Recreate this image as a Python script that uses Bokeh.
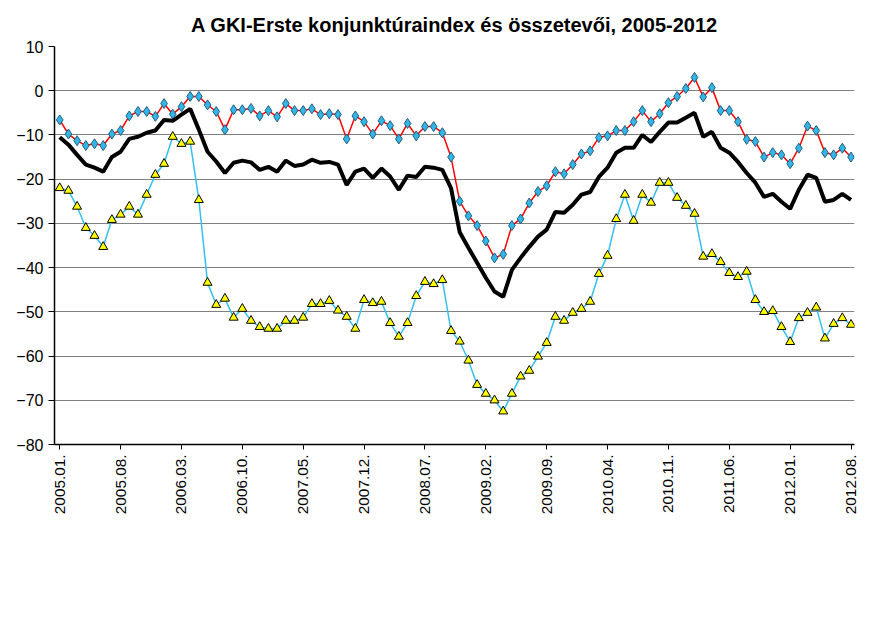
from bokeh.plotting import figure
from bokeh.models import Range1d, FixedTicker, Legend, LegendItem, Title
from bokeh.embed import file_html
from bokeh.resources import INLINE
import math

tick_labels = ["2005.01.", "2005.08.", "2006.03.", "2006.10.", "2007.05.", "2007.12.", "2008.07.",
               "2009.02.", "2009.09.", "2010.04.", "2010.11.", "2011.06.", "2012.01.", "2012.08."]

uzleti = [-6.6, -9.8, -11.3, -12.4, -12, -12.4, -9.8, -9, -5.7, -4.7, -4.7, -5.8,
          -2.9, -5.3, -3.6, -1.3, -1.3, -3.2, -4.7, -8.8, -4.3, -4.3, -4.0, -5.7,
          -4.5, -5.9, -2.9, -4.5, -4.5, -4.1, -5.4, -5.2, -5.4, -10.9, -5.7, -7,
          -9.8, -6.8, -7.9, -10.9, -7.4, -10.2, -8.1, -8.1, -9.5, -15, -25, -28.3,
          -30.5, -34, -37.8, -37, -30.5, -29, -25.4, -22.8, -21.5, -18.3, -18.8, -16.7,
          -14.3, -13.6, -10.6, -10.2, -9, -9, -7, -4.5, -7, -5.2, -2.7, -1.3,
          0.5, 3, -1.4, 0.7, -4.5, -4.5, -7, -11, -11.5, -15, -14, -14.5,
          -16.5, -13, -8, -9, -14, -14.5, -13, -15]

fogyasztoi = [-22, -22.6, -26.2, -31, -32.8, -35.3, -29.2, -28, -26.2, -28, -23.5, -19,
              -16.5, -10.4, -12, -11.5, -24.7, -43.4, -48.4, -47, -51.3, -49.3, -52, -53.4,
              -53.8, -53.8, -52, -52, -51.3, -48.2, -48.2, -47.5, -49.7, -51.1, -53.8, -47.3,
              -48, -47.7, -52.5, -55.6, -52.5, -46.4, -43.2, -43.7, -42.8, -54.3, -56.7, -61,
              -66.5, -68.5, -70, -72.5, -68.5, -64.6, -63.3, -60.1, -57, -51.1, -52, -50.2,
              -49.3, -47.7, -41.4, -37.3, -29, -23.5, -29.4, -23.5, -25.3, -20.8, -20.8, -24.2,
              -26, -27.8, -37.5, -36.9, -38.7, -41.2, -42.1, -40.9, -47.3, -50, -49.8, -53.4,
              -56.8, -51.4, -50.2, -49, -56, -52.7, -51.4, -52.9]

gki = [-10.5, -12.2, -14.5, -16.7, -17.4, -18.3, -15, -13.8, -10.9, -10.4, -9.5, -9,
       -6.6, -6.8, -5.4, -4.1, -8.8, -13.8, -16, -18.6, -16.3, -15.8, -16.2, -17.9,
       -17.2, -18.3, -15.8, -17, -16.7, -15.6, -16.3, -16.1, -16.7, -21.3, -18.3, -17.6,
       -19.7, -17.6, -19.4, -22.4, -19.2, -19.5, -17.2, -17.4, -17.9, -22, -32, -35.5,
       -38.9, -42.3, -45.4, -46.6, -40.5, -37.8, -35.3, -33, -31.4, -27.4, -27.6, -25.8,
       -23.5, -22.9, -19.5, -17.4, -14, -12.9, -12.9, -10, -11.6, -9.3, -7.2, -7.2,
       -6.1, -5, -10.4, -9.3, -12.9, -14, -16.1, -18.6, -20.8, -24, -23.3, -25.1,
       -26.7, -22.4, -19, -19.7, -25.1, -24.7, -23.3, -24.7]

x = list(range(len(uzleti)))
FONT = "Liberation Sans"

p = figure(frame_width=800, frame_height=398, output_backend="svg", toolbar_location=None,
           x_range=Range1d(-0.6, 91.4), y_range=Range1d(-80, 10),
           min_border_left=54, min_border_right=26, min_border_top=10, min_border_bottom=6,
           background_fill_color="white", border_fill_color="white")
p.title.text = "A GKI-Erste konjunktúraindex és összetevői, 2005-2012"
p.title.align = "center"
p.title.text_font = FONT
p.title.text_font_size = "15pt"
p.title.text_font_style = "bold"
p.title.text_color = "black"
p.title.standoff = 22
p.outline_line_color = None

p.xgrid.grid_line_color = None
p.ygrid.grid_line_color = "#808080"
p.ygrid.grid_line_width = 1.2
p.yaxis.ticker = FixedTicker(ticks=list(range(-80, 11, 10)))
p.yaxis.minor_tick_line_color = None
p.yaxis.major_tick_in = 0
p.yaxis.major_tick_out = 6
p.yaxis.axis_line_color = "black"
p.yaxis.axis_line_width = 1.5
p.yaxis.major_label_text_font = FONT
p.yaxis.major_label_text_font_size = "12pt"
p.yaxis.major_label_text_color = "black"

p.xaxis.ticker = FixedTicker(ticks=[i * 7 for i in range(len(tick_labels))])
p.xaxis.major_label_overrides = {i * 7: t for i, t in enumerate(tick_labels)}
p.xaxis.major_label_orientation = math.pi / 2
p.xaxis.minor_tick_line_color = None
p.xaxis.major_tick_in = 0
p.xaxis.major_tick_out = 5
p.xaxis.axis_line_color = "black"
p.xaxis.axis_line_width = 1.5
p.xaxis.major_label_text_font = FONT
p.xaxis.major_label_text_font_size = "11.5pt"
p.xaxis.major_label_text_color = "black"

l1 = p.line(x, uzleti, line_color="red", line_width=1.5)
s1 = p.scatter(x, uzleti, marker="diamond", size=10, fill_color="#33b5e5", line_color="#1f5f80")
l2 = p.line(x, fogyasztoi, line_color="#33c0f0", line_width=1.5)
s2 = p.scatter(x, fogyasztoi, marker="triangle", size=9, fill_color="#ffff00", line_color="black")
l3 = p.line(x, gki, line_color="black", line_width=4)

legend = Legend(items=[
    LegendItem(label="Üzleti bizalmi index", renderers=[l1, s1]),
    LegendItem(label="Fogyasztói bizalmi index", renderers=[l2, s2]),
    LegendItem(label="GKI-Erste konjunktúraindex", renderers=[l3]),
], orientation="horizontal", location="center", spacing=50,
    label_text_font=FONT, label_text_font_size="11pt",
    border_line_color=None, glyph_width=40, margin=2, padding=4)
p.add_layout(legend, "below")

foot = Title(text="Forrás: a GKI felmérései", text_font=FONT,
             text_font_size="8pt", text_font_style="normal", align="left")
p.add_layout(foot, "below")

open("out.html", "w").write(file_html(p, INLINE))
